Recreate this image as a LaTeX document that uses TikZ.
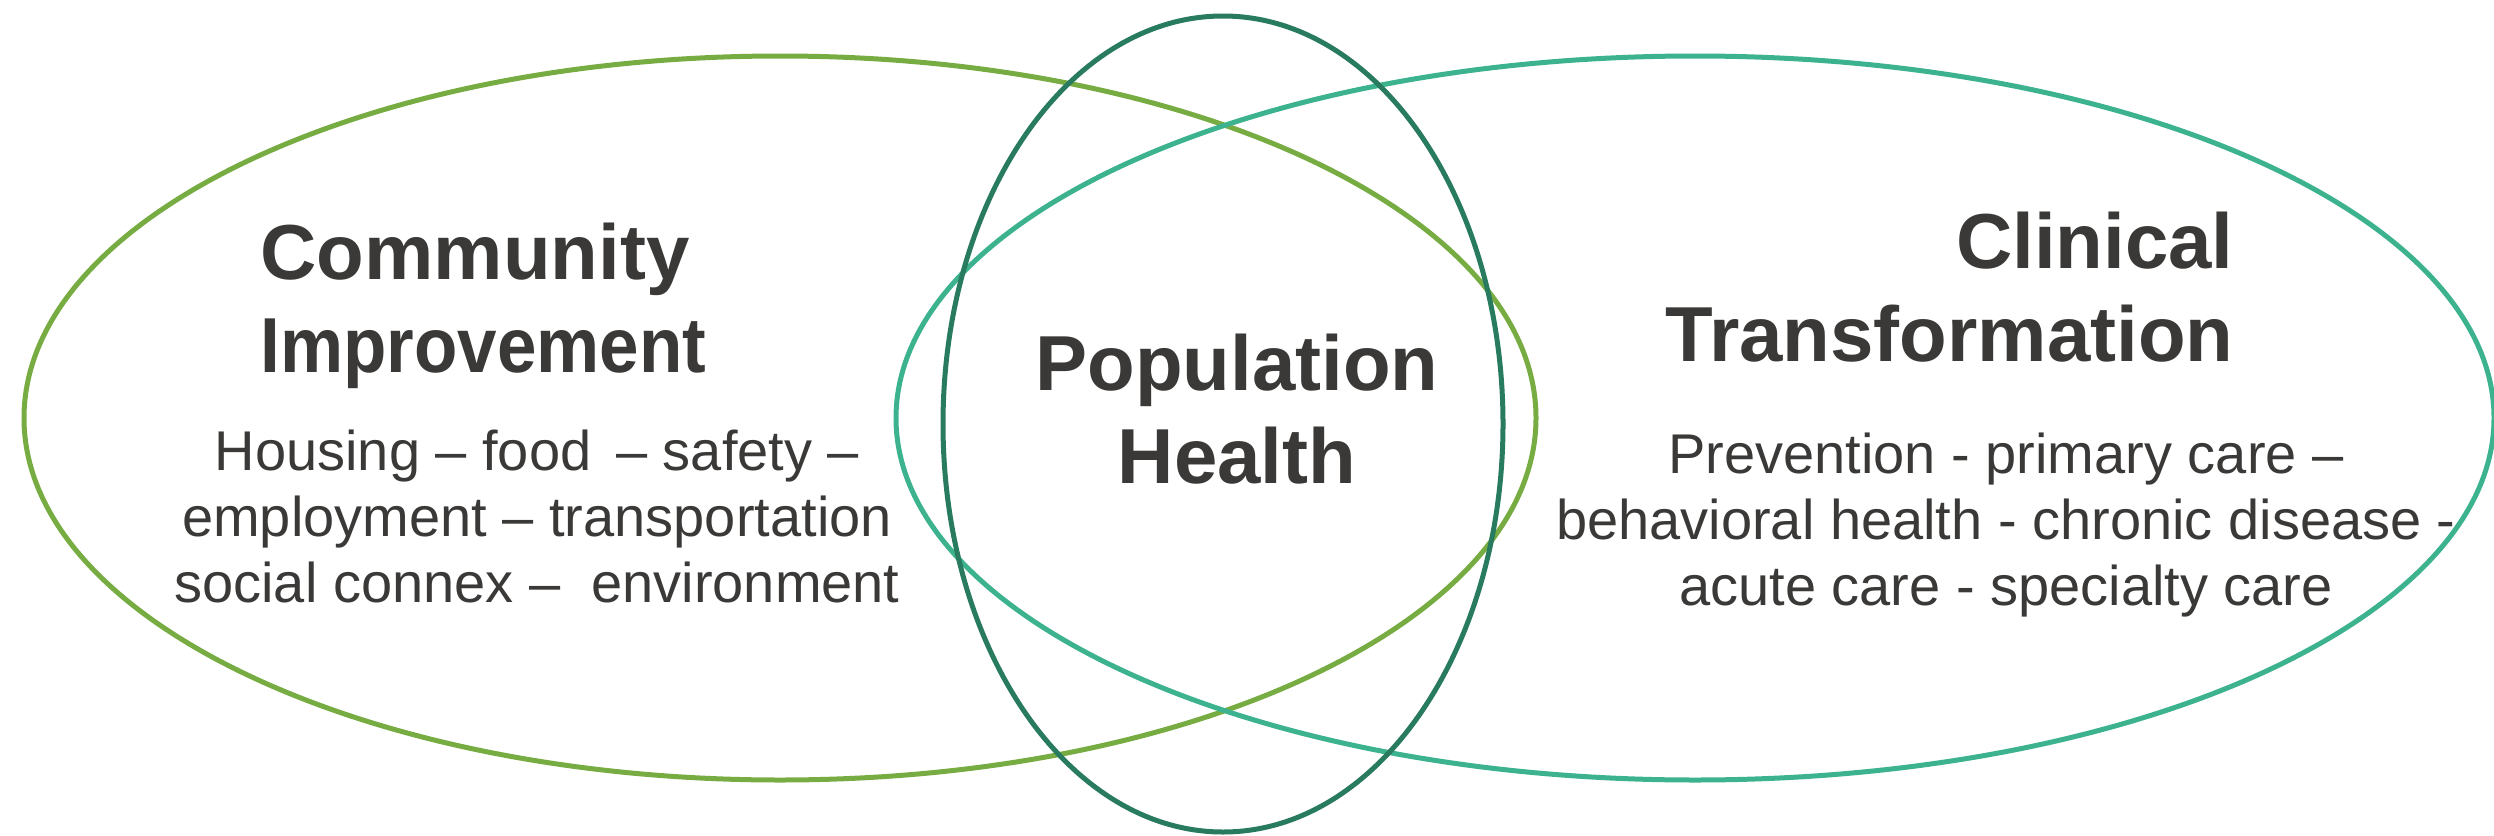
\documentclass[tikz,border=0pt]{standalone}
\usepackage{fontspec}
\setmainfont{Liberation Sans}
\usepackage{tikz}
\usetikzlibrary{positioning,calc}

\definecolor{leafgreen}{HTML}{77AC43}
\definecolor{seagreen}{HTML}{3CB28E}
\definecolor{pinegreen}{HTML}{287B5E}
\definecolor{inkgray}{HTML}{3A3937}

\begin{document}
\begin{tikzpicture}[x=1pt, y=-1pt, line width=5pt, inner sep=0pt, text=inkgray]
\tikzstyle{title}=[font=\bfseries\fontsize{78}{93}\selectfont]
\tikzstyle{items}=[font=\fontsize{56}{66}\selectfont, align=center]
\useasboundingbox (0,0) rectangle (2494,835);
% the three circles
\coordinate (Lc) at (780,418);
\coordinate (Rc) at (1695,418);
\coordinate (Mc) at (1223,424);
\draw[leafgreen] (Lc) ellipse [x radius=756, y radius=362];
\draw[seagreen]  (Rc) ellipse [x radius=799, y radius=362];
\draw[pinegreen] (Mc) ellipse [x radius=280, y radius=408];
% texts (base = last line)
\node[title, align=left, anchor=base west] (comm) at (258,372)
  {Community\\\scalebox{0.91}[1]{Improvement}};
\node[items, anchor=base] (commlist) at (537,602)
  {Housing -- food \,-- safety --\\employment -- transportation\\social connex -- \ environment};
\node[title, align=center, anchor=base] (pop) at (1237,483) {Population\\Health};
\node[title, align=right, anchor=base east] (clin) at (2236,361) {Clinical\\Transformation};
\node[items, anchor=base] (clinlist) at (2006,605)
  {Prevention - primary care --\\behavioral health - chronic disease -\\acute care - specialty care};
\end{tikzpicture}
\end{document}
